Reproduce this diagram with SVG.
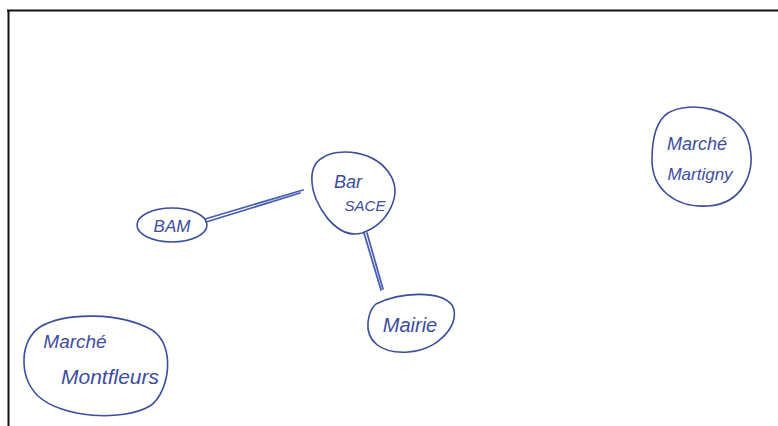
<svg xmlns="http://www.w3.org/2000/svg" width="778" height="426" viewBox="0 0 778 426">
<style>
.blob{fill:none;stroke:#3d4d9e;stroke-width:1.6;stroke-linecap:round;stroke-linejoin:round}
.lbl{font-family:"Liberation Sans",Arial,sans-serif;font-style:italic;fill:#3d4d9e;text-anchor:middle}
.edge{fill:none;stroke:#4a5fb4;stroke-width:1.8;stroke-linecap:round}
</style>
<rect width="778" height="426" fill="#ffffff"/>
<path d="M7 10.5 H778 M8.5 10 V426" stroke="#111" stroke-width="2" fill="none"/>
<g id="connectors">
<path class="edge" d="M205 219 L303 190"/>
<path class="edge" d="M206 222 L300 193"/>
<path class="edge" d="M364 233 L381 290"/>
<path class="edge" d="M367 233 L383 289"/>
</g>
<g id="bar-sace">
<path class="blob" d="M322 158 C338 147 376 150 391 176 C402 196 388 224 362 233 C336 240 313 204 312 182 C311 170 314 163 322 158 Z"/>
<text class="lbl" x="348" y="188" font-size="18">Bar</text>
<text class="lbl" x="365" y="211" font-size="15">SACE</text>
</g>
<g id="bam">
<ellipse class="blob" cx="172" cy="225" rx="35" ry="17"/>
<text class="lbl" x="172" y="232" font-size="17">BAM</text>
</g>
<g id="mairie">
<path class="blob" d="M376 304 C400 292 440 290 452 305 C462 322 440 350 408 352 C380 354 366 340 368 322 C369 314 371 308 376 304 Z"/>
<text class="lbl" x="410" y="332" font-size="20">Mairie</text>
</g>
<g id="marche-martigny">
<path class="blob" d="M668 113 C690 100 738 108 748 140 C758 172 742 204 708 206 C674 208 652 188 652 160 C652 138 656 121 668 113 Z"/>
<text class="lbl" x="697" y="150" font-size="18">Marché</text>
<text class="lbl" x="700" y="180" font-size="17">Martigny</text>
</g>
<g id="marche-montfleurs">
<path class="blob" d="M40 327 C65 312 120 312 152 330 C176 345 170 392 150 406 C122 422 62 418 38 396 C18 376 20 340 40 327 Z"/>
<text class="lbl" x="75" y="348" font-size="19">Marché</text>
<text class="lbl" x="110" y="384" font-size="21">Montfleurs</text>
</g>
</svg>
